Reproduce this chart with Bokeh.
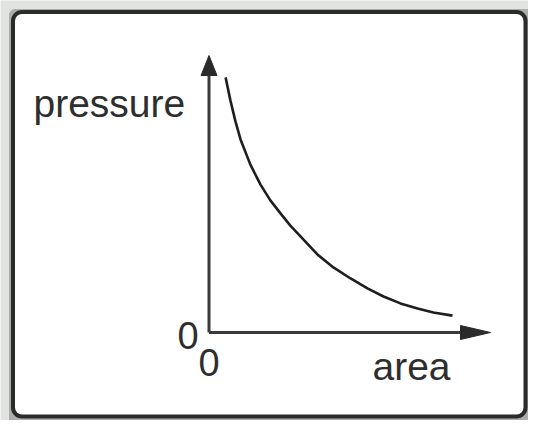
from bokeh.plotting import figure
from bokeh.models import Range1d, BoxAnnotation
from bokeh.core.properties import value
from bokeh.embed import file_html
from bokeh.resources import INLINE

# ---- data ----
area = [0.59, 0.76, 0.94, 1.12, 1.47, 1.83, 2.18, 2.54, 2.89, 3.25, 3.85, 4.42,
        5.03, 5.63, 6.20, 6.80, 7.41, 7.97, 8.65]
pressure = [9.21, 8.38, 7.62, 6.97, 6.06, 5.34, 4.77, 4.30, 3.86, 3.47, 2.82, 2.35,
            1.95, 1.59, 1.30, 1.05, 0.87, 0.72, 0.61]
area_axis_max = 10.0
pressure_axis_max = 10.0
x_label = "area"
y_label = "pressure"
tick_zero = "0"

# ---- layout constants (pixels per unit, origin position in picture px) ----
W, H = 528, 420
UX, UY = 28.15, 27.7
OX, OY = 208.5, 332.0

def dx(px):
    return (px - OX) / UX

def dy(py):
    return (OY - py) / UY

p = figure(width=W, height=H, output_backend="svg", toolbar_location=None,
           x_range=Range1d(dx(0), dx(W)), y_range=Range1d(dy(H), dy(0)),
           x_axis_type=None, y_axis_type=None, min_border=0)
p.grid.visible = False
p.outline_line_color = None
p.background_fill_color = "#e1e3e1"
p.border_fill_color = "#e1e3e1"

shadow = BoxAnnotation(left=dx(8.5), right=dx(W + 5), top=dy(8.5), bottom=dy(H + 5),
                       fill_color="#adadad", fill_alpha=1, line_color=None,
                       border_radius=6, level="underlay")
p.add_layout(shadow)
frame = BoxAnnotation(left=dx(12.5), right=dx(525), top=dy(11.5), bottom=dy(416),
                      fill_color="white", fill_alpha=1, line_color="#2b2b2b",
                      line_alpha=1, line_width=4, border_radius=9, level="underlay")
p.add_layout(frame)

axis_color = "#3a3a3a"
# axes lines
p.segment(x0=[0, 0], y0=[0, 0],
          x1=[area_axis_max - 28 / UX, 0], y1=[0, pressure_axis_max - 18 / UY],
          line_color=axis_color, line_width=3)
# arrow heads
hx_len, hx_half = 30 / UX, 7 / UY
hy_len, hy_half = 20 / UY, 8 / UX
p.patch([area_axis_max, area_axis_max - hx_len, area_axis_max - hx_len],
        [0, hx_half, -hx_half], color="#2a2a2a", line_width=1)
p.patch([0, hy_half, -hy_half],
        [pressure_axis_max, pressure_axis_max - hy_len, pressure_axis_max - hy_len],
        color="#2a2a2a", line_width=1)

# curve
p.line(area, pressure, line_color="#1e1e1e", line_width=2.6, line_join="round")

font = value("Liberation Sans")
tc = "#2e2e2e"
p.text(x=[dx(33)], y=[dy(103)], text=[y_label], text_font=font, text_font_size="39px",
       text_align="left", text_baseline="alphabetic", text_color=tc)
p.text(x=[dx(372)], y=[dy(366)], text=[x_label], text_font=font, text_font_size="39px",
       text_align="left", text_baseline="alphabetic", text_color=tc)
p.text(x=[dx(187.5), 0], y=[dy(335), dy(362)], text=[tick_zero, tick_zero], text_font=font,
       text_font_size="38px", text_align="center", text_baseline="alphabetic", text_color=tc)

open("out.html", "w").write(file_html(p, INLINE))
